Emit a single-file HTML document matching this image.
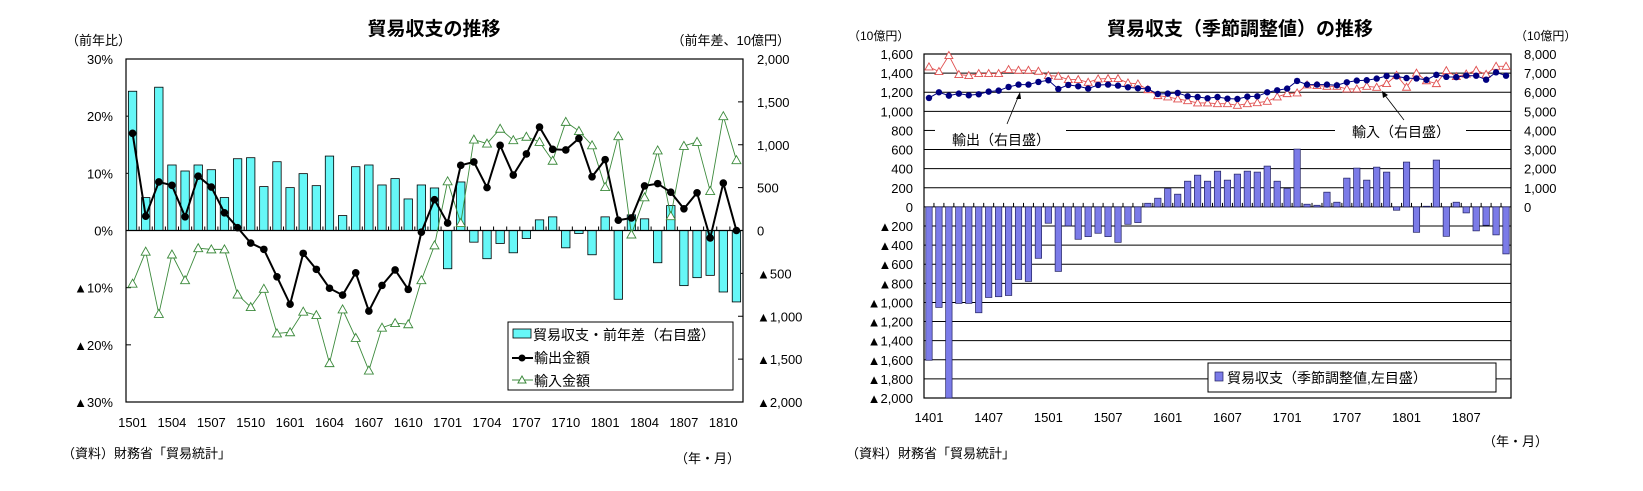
<!DOCTYPE html>
<html><head><meta charset="utf-8"><style>
body{margin:0;background:#fff;}
svg{display:block;font-family:"Liberation Sans","Noto Sans CJK JP",sans-serif;}
</style></head><body>
<svg id="chart" width="1643" height="491" viewBox="0 0 1643 491"></svg>
<script>
// ===== Left chart data (1501-1811) =====
const leftMonths = ["1501","1502","1503","1504","1505","1506","1507","1508","1509","1510","1511","1512","1601","1602","1603","1604","1605","1606","1607","1608","1609","1610","1611","1612","1701","1702","1703","1704","1705","1706","1707","1708","1709","1710","1711","1712","1801","1802","1803","1804","1805","1806","1807","1808","1809","1810","1811"];
const leftBalanceDiff = [1624,384,1671,764,694,764,709,384,837,849,512,802,500,663,523,868,174,744,764,531,605,368,531,496,-446,566,-136,-329,-151,-260,-93,124,159,-202,-35,-283,159,-802,182,136,-376,291,-643,-550,-523,-717,-833];
const leftExports = [17.0,2.5,8.5,7.9,2.4,9.5,7.6,3.1,0.5,-2.2,-3.3,-8.1,-12.9,-4.0,-6.8,-10.1,-11.3,-7.4,-14.1,-9.6,-6.9,-10.3,-0.3,5.4,1.3,11.4,12.0,7.5,14.9,9.7,13.4,18.1,14.2,14.1,16.1,9.4,12.4,1.8,2.2,7.8,8.2,6.7,3.8,6.6,-1.3,8.3,0.0];
const leftImports = [-9.3,-3.7,-14.6,-4.2,-8.7,-3.1,-3.3,-3.3,-11.2,-13.4,-10.2,-18.0,-17.8,-14.2,-14.8,-23.2,-13.8,-18.8,-24.5,-17.0,-16.2,-16.4,-8.7,-2.6,8.6,1.3,15.9,15.2,17.8,15.8,16.4,15.5,12.2,19.0,17.4,14.9,7.6,16.5,-0.7,5.8,14.0,2.5,14.8,15.5,6.9,20.0,12.3];
const leftYTicks = ["30%","20%","10%","0%","▲10%","▲20%","▲30%"];
const leftY2Ticks = ["2,000","1,500","1,000","500","0","▲500","▲1,000","▲1,500","▲2,000"];
// ===== Right chart data (1401-1811) =====
const rightBalance = [-1605,-1052,-2000,-1010,-1010,-1108,-948,-940,-927,-759,-780,-538,-171,-675,-199,-339,-311,-276,-311,-371,-182,-164,38,91,192,133,269,332,269,374,280,343,374,364,427,269,192,605,28,17,154,49,301,406,280,416,364,-35,469,-266,7,490,-308,49,-63,-251,-192,-293,-492];
const rightExports = [5699,5996,5822,5927,5839,5892,6031,6084,6276,6399,6399,6538,6626,6171,6381,6311,6189,6381,6399,6346,6259,6206,6171,5909,5927,5962,5787,5752,5682,5752,5664,5647,5769,5787,5996,6101,6189,6591,6399,6399,6399,6364,6521,6608,6626,6713,6850,6830,6740,6720,6650,6910,6805,6790,6870,6865,6655,7040,6865];
const rightImports = [7325,7080,7920,6923,6871,6976,6976,6976,7185,7150,7150,7098,6871,6836,6661,6661,6521,6696,6713,6713,6486,6434,6136,5822,5752,5647,5559,5437,5437,5402,5402,5315,5402,5455,5524,5752,5927,5962,6381,6346,6311,6311,6171,6171,6311,6259,6451,6888,6260,7000,6600,6450,7130,6820,6953,7145,6935,7355,7355];
const rightXLabels = ["1401","1407","1501","1507","1601","1607","1701","1707","1801","1807"];
const rightYTicks = ["1,600","1,400","1,200","1,000","800","600","400","200","0","▲200","▲400","▲600","▲800","▲1,000","▲1,200","▲1,400","▲1,600","▲1,800","▲2,000"];
const rightY2Ticks = ["8,000","7,000","6,000","5,000","4,000","3,000","2,000","1,000","0"];

const NS="http://www.w3.org/2000/svg";
const svg=document.getElementById('chart');
function mk(tag,attrs,parent){const e=document.createElementNS(NS,tag);for(const k in attrs)e.setAttribute(k,attrs[k]);(parent||svg).appendChild(e);return e;}
function txt(s,x,y,size,anchor,parent,weight){const t=mk('text',{x:x,y:y,'font-size':size,'text-anchor':anchor||'start',fill:'#000'},parent);if(weight)t.setAttribute('font-weight',weight);t.textContent=s;return t;}

// ---------- LEFT CHART ----------
const L={x0:126,x1:743,y0:59,y1:402};
const lN=leftMonths.length, lStep=(L.x1-L.x0)/lN;
const lx=i=>L.x0+lStep*(i+0.5);
const lyPct=v=>L.y0+(30-v)/60*(L.y1-L.y0);
const lyAmt=v=>L.y0+(2000-v)/4000*(L.y1-L.y0);
const gL=mk('g',{});


let t=txt('貿易収支の推移',434,35,19,'middle',gL,'bold');

t=txt('（前年比）',66,45,13,'start',gL);

t=txt('（前年差、10億円）',790,45,13,'end',gL);

mk('rect',{x:L.x0,y:L.y0,width:L.x1-L.x0,height:L.y1-L.y0,fill:'none',stroke:'#000','stroke-width':1.2},gL);
leftYTicks.forEach((s,i)=>{const v=30-i*10,y=lyPct(v);
 const tt=txt(s,113,y+5,13,'end',gL);
 mk('line',{x1:L.x0,x2:L.x0+5,y1:y,y2:y,stroke:'#000'},gL);});
leftY2Ticks.forEach((s,i)=>{const v=2000-i*500,y=lyAmt(v);
 const tt=txt(s,757,y+5,13,'start',gL);
 mk('line',{x1:L.x1-5,x2:L.x1,y1:y,y2:y,stroke:'#000'},gL);});
leftBalanceDiff.forEach((v,i)=>{const y0=lyAmt(0),y=lyAmt(v);
 const r=mk('rect',{x:lx(i)-4.2,y:Math.min(y,y0),width:8.4,height:Math.abs(y-y0),fill:'#66F7F7',stroke:'#000','stroke-width':0.8},gL);
 });
mk('line',{x1:L.x0,x2:L.x1,y1:lyAmt(0),y2:lyAmt(0),stroke:'#000','stroke-width':1.2},gL);
for(let i=1;i<lN;i++)mk('line',{x1:L.x0+lStep*i,x2:L.x0+lStep*i,y1:lyAmt(0),y2:lyAmt(0)-4,stroke:'#000'},gL);
leftMonths.forEach((m,i)=>{if(i%3===0){const tt=txt(m,lx(i),427,13,'middle',gL);}});
let p=mk('polyline',{points:leftImports.map((v,i)=>lx(i)+','+lyPct(v)).join(' '),fill:'none',stroke:'#3C8A3C','stroke-width':0.9},gL);

leftImports.forEach((v,i)=>{const x=lx(i),y=lyPct(v);
 const m=mk('polygon',{points:`${x},${y-4.5} ${x-4.5},${y+3.5} ${x+4.5},${y+3.5}`,fill:'#fff',stroke:'#3C8A3C','stroke-width':0.9},gL);
 });
p=mk('polyline',{points:leftExports.map((v,i)=>lx(i)+','+lyPct(v)).join(' '),fill:'none',stroke:'#000','stroke-width':2},gL);

leftExports.forEach((v,i)=>{const c=mk('circle',{cx:lx(i),cy:lyPct(v),r:3.8,fill:'#000'},gL);
 });
const lg=mk('g',{},gL);

mk('rect',{x:508,y:322,width:225,height:68,fill:'#fff',stroke:'#000'},lg);
mk('rect',{x:513,y:329,width:18,height:9,fill:'#66F7F7',stroke:'#000','stroke-width':0.8},lg);
txt('貿易収支・前年差（右目盛）',533,340,14,'start',lg);
mk('line',{x1:512,x2:533,y1:358,y2:358,stroke:'#000','stroke-width':2},lg);
mk('circle',{cx:522,cy:358,r:3.5,fill:'#000'},lg);
txt('輸出金額',534,363,14,'start',lg);
mk('line',{x1:512,x2:533,y1:380,y2:380,stroke:'#3C8A3C'},lg);
mk('polygon',{points:'522,376 518,383 526,383',fill:'#fff',stroke:'#3C8A3C'},lg);
txt('輸入金額',534,386,14,'start',lg);
t=txt('（資料）財務省「貿易統計」',62,458,13,'start',gL);
t=txt('（年・月）',740,463,13,'end',gL);

// ---------- RIGHT CHART ----------
const R={x0:924,x1:1511,y0:54,y1:398};
const rN=rightBalance.length, rStep=(R.x1-R.x0)/rN;
const rx=i=>R.x0+rStep*(i+0.5);
const ry=v=>R.y0+(1600-v)/3600*(R.y1-R.y0);
const ry2=v=>ry(v/5);
const gR=mk('g',{});


t=txt('貿易収支（季節調整値）の推移',1240,35,19,'middle',gR,'bold');
t=txt('（10億円）',848,40,12,'start',gR);
t=txt('（10億円）',1515,40,12,'start',gR);
rightYTicks.forEach((s,i)=>{const v=1600-i*200,y=ry(v);
 if(v===800){mk('line',{x1:R.x0,x2:935,y1:y,y2:y,stroke:'#000'},gR);mk('line',{x1:1066,x2:1335,y1:y,y2:y,stroke:'#000'},gR);mk('line',{x1:1466,x2:R.x1,y1:y,y2:y,stroke:'#000'},gR);}
 else mk('line',{x1:R.x0,x2:R.x1,y1:y,y2:y,stroke:'#000','stroke-width':1},gR);
 const tt=txt(s,913,y+5,13,'end',gR);});
rightY2Ticks.forEach((s,i)=>{const v=8000-i*1000,y=ry2(v);
 const tt=txt(s,1524,y+5,13,'start',gR);});
mk('rect',{x:R.x0,y:R.y0,width:R.x1-R.x0,height:R.y1-R.y0,fill:'none',stroke:'#000','stroke-width':1.2},gR);
rightBalance.forEach((v,i)=>{const y0=ry(0),y=ry(v);
 const r=mk('rect',{x:rx(i)-3.2,y:Math.min(y,y0),width:6.4,height:Math.abs(y-y0),fill:'#7B7BE8',stroke:'#202060','stroke-width':0.7},gR);
 });
for(let i=1;i<rN;i++)mk('line',{x1:R.x0+rStep*i,x2:R.x0+rStep*i,y1:ry(0),y2:ry(0)-4,stroke:'#000'},gR);
rightXLabels.forEach((s,k)=>{const tt=txt(s,rx(k*6),422,13,'middle',gR);});
p=mk('polyline',{points:rightImports.map((v,i)=>rx(i)+','+ry2(v)).join(' '),fill:'none',stroke:'#E05050','stroke-width':0.9},gR);

rightImports.forEach((v,i)=>{const x=rx(i),y=ry2(v);
 const m=mk('polygon',{points:`${x},${y-4} ${x-4},${y+3} ${x+4},${y+3}`,fill:'#fff',stroke:'#E05050','stroke-width':0.9},gR);
 });
p=mk('polyline',{points:rightExports.map((v,i)=>rx(i)+','+ry2(v)).join(' '),fill:'none',stroke:'#000080','stroke-width':1},gR);

rightExports.forEach((v,i)=>{const c=mk('circle',{cx:rx(i),cy:ry2(v),r:3.2,fill:'#000080'},gR);
 });
t=txt('輸出（右目盛）',952,145,14,'start',gR);
mk('line',{x1:1007,x2:1019,y1:124,y2:95,stroke:'#000','stroke-width':0.8},gR);
mk('polygon',{points:'1020,92 1016,99 1021,99',fill:'#000'},gR);
t=txt('輸入（右目盛）',1352,137,14,'start',gR);
mk('line',{x1:1404,x2:1384,y1:120,y2:94,stroke:'#000','stroke-width':0.8},gR);
mk('polygon',{points:'1382,91 1383,98 1388,95',fill:'#000'},gR);
const rg=mk('g',{},gR);

mk('rect',{x:1208,y:363,width:288,height:29,fill:'#fff',stroke:'#000'},rg);
mk('rect',{x:1215,y:372,width:8,height:9,fill:'#7B7BE8',stroke:'#202060','stroke-width':0.7},rg);
txt('貿易収支（季節調整値,左目盛）',1227,383,14,'start',rg);
t=txt('（資料）財務省「貿易統計」',846,458,13,'start',gR);
t=txt('（年・月）',1548,446,13,'end',gR);
</script>
</body></html>
